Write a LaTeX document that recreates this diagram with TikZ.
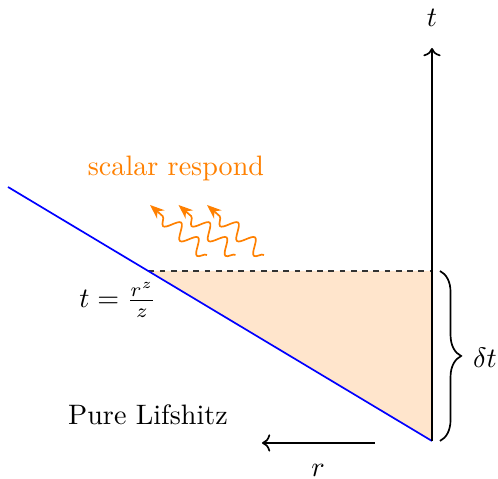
\documentclass[tikz,border=0pt]{standalone}
\usepackage{tikz}
\usetikzlibrary{arrows.meta,decorations.pathmorphing,decorations.pathreplacing}
\tikzset{wave/.style={orange,semithick,-{Stealth[length=1.8mm,width=1.4mm]},decorate,decoration={snake,amplitude=2.6pt,segment length=8pt,post length=1mm}},axe/.style={->,semithick}}

\begin{document}
\begin{tikzpicture}[x=0.625cm,y=0.625cm]
\useasboundingbox (-8.64,-0.76) rectangle (1.32,8.82);
\coordinate (O) at (0,0);
\coordinate (top) at (0,7.86);
\coordinate (far) at (-8.48,5.08);
\coordinate (hit) at (-5.67,3.4);
\coordinate (lvl) at (0,3.4);
\fill[orange!20] (O)--(hit)--(lvl)--cycle;
\draw[dash pattern=on 2pt off 2pt,black!80] (hit)--(lvl);
\draw[blue,semithick] (O)--(far);
\draw[axe] (O)--(top);
\node (tlab) at (0,8.46) {$t$};
\draw[semithick,decorate,decoration={brace,amplitude=7.5pt}] (0.16,3.4)--(0.16,0);
\node (dt) at (1.06,1.66) {$\delta t$};
\coordinate (ra) at (-1.14,-0.04);
\coordinate (rb) at (-3.4,-0.04);
\draw[axe] (ra)--(rb);
\node (rlab) at (-2.28,-0.58) {$r$};
\node (pure) at (-5.68,0.52) {Pure Lifshitz};
\node (law) at (-6.28,2.82) {$t=\frac{r^z}{z}$};
\node[orange] (resp) at (-5.12,5.46) {scalar respond};
\foreach \i in {0,1,2}
  \draw[wave] (-4.5+0.57*\i,3.72)--(-5.64+0.57*\i,4.72);
\end{tikzpicture}
\end{document}
